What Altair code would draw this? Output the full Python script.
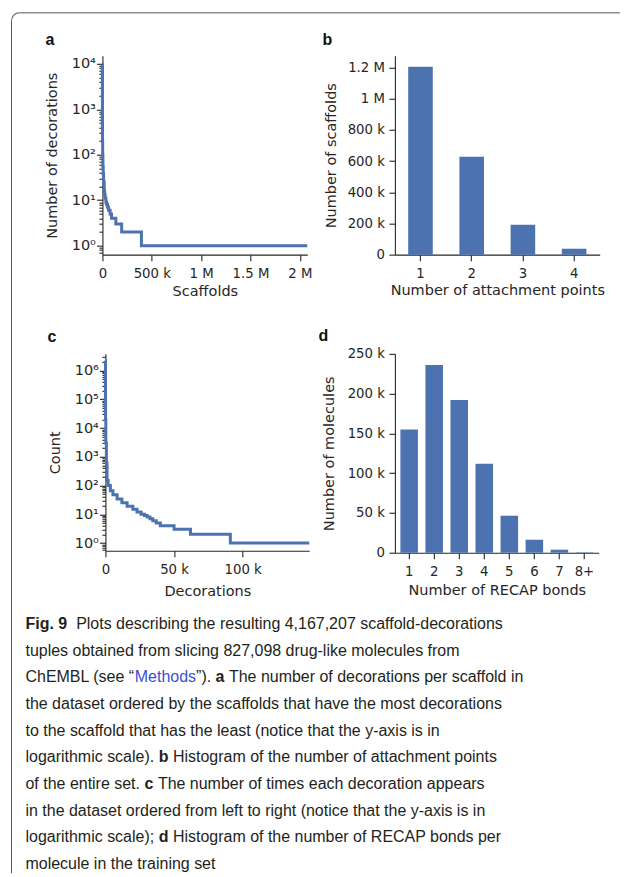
import altair as alt
import pandas as pd

# ---------------- data ----------------
# a: number of decorations per scaffold, ranked (rank at which each level starts)
a_rank = [0, 30, 100, 400, 1000, 2500, 5000, 8000, 12000, 18000, 23000, 28000,
          35000, 43000, 52000, 62000, 78000, 92000, 136000, 195000, 395000, 2075000]
a_count = [9500, 3000, 1000, 400, 200, 100, 55, 38, 25, 16, 13, 11,
           9, 8, 7, 6, 5, 4, 3, 2, 1, 1]

# b: histogram of attachment points
b_attach = ["1", "2", "3", "4"]
b_scaffolds = [1205000, 628000, 192000, 38000]

# c: number of times each decoration appears, ranked
c_rank = [0, 30, 100, 300, 700, 1200, 2000, 3600, 5500, 8500, 12000, 15800, 20000,
          23000, 26000, 28500, 30500, 32500, 34500, 37000, 40000, 50000, 62000, 91000, 148500]
c_count = [2200000, 100000, 20000, 3000, 600, 150, 100, 66, 48, 34, 25, 19, 15,
           12, 10, 9, 8, 7, 6, 5, 4, 3, 2, 1, 1]

# d: histogram of RECAP bonds
d_bonds = ["1", "2", "3", "4", "5", "6", "7", "8+"]
d_molecules = [155000, 236000, 192000, 112000, 46500, 16300, 3800, 500]

a_xticks = [0, 500000, 1000000, 1500000, 2000000]
c_xticks = [0, 50000, 100000]
b_yticks = [0, 200000, 400000, 600000, 800000, 1000000, 1200000]
d_yticks = [0, 50000, 100000, 150000, 200000, 250000]

# ---------------- styles ----------------
INK = "#262626"
TXT = "#231f20"
BLUE = "#4c72b0"
LINK = "#3a4fd6"
FRAME = "#555555"
AX_FONT = "DejaVu Sans"
CAP_FONT = "Liberation Sans"
CAP_FS = 16.0
LET_FONT = "Liberation Sans"

POW = "[1,10,100,1000,10000,100000,1000000]"
MAJOR_TEST = f"indexof({POW}, datum.value) >= 0"
SUP = "['\u2070','\u00b9','\u00b2','\u00b3','\u2074','\u2075','\u2076']"
LOG_LABEL = f"{MAJOR_TEST} ? '10' + {SUP}[indexof({POW}, datum.value)] : ''"
KM_LABEL = ("datum.value == 0 ? '0' : datum.value >= 1000000 ? "
            "format(datum.value / 1000000, '~g') + ' M' : format(datum.value / 1000, '~g') + ' k'")


def log_ticks(lo, hi):
    vals = []
    for e in range(-1, 7):
        for m in range(1, 10):
            v = m * 10 ** e if e >= 0 else round(m * 10 ** e, 6)
            if lo <= v <= hi:
                vals.append(v)
    return vals


def log_axis(title, title_x, lo, hi, offset=0):
    return alt.Axis(values=log_ticks(lo, hi), labelExpr=LOG_LABEL, labelOverlap=False,
                    labelFlush=False, offset=offset, labelFontSize=14.5,
                    tickSize={"condition": {"test": MAJOR_TEST, "value": 6}, "value": 3.5},
                    labelPadding=1, title=title, titleX=title_x, titleBaseline="alphabetic")


def lin_yaxis(title, title_x, values):
    return alt.Axis(values=values, labelExpr=KM_LABEL, labelOverlap=False, labelFlush=False,
                    tickSize=6, labelPadding=4.5, title=title, titleX=title_x,
                    titleBaseline="alphabetic")


def xaxis_q(title, values, title_y):
    return alt.Axis(values=values, labelExpr=KM_LABEL, labelOverlap=False, labelFlush=False,
                    tickSize=6, labelBaseline="alphabetic", labelPadding=16.5,
                    title=title, titleY=title_y, titleBaseline="alphabetic")


def xaxis_o(title, title_y):
    return alt.Axis(labelAngle=0, tickSize=6, labelBaseline="alphabetic", labelPadding=16.5,
                    title=title, titleY=title_y, titleBaseline="alphabetic")


one = pd.DataFrame({"k": [0]})


def letter(t, x, y):
    return alt.Chart(one).mark_text(text=t, font=LET_FONT, fontSize=16, fontWeight="bold",
                                    align="left", baseline="alphabetic", color="#111111").encode(
        x=alt.value(x), y=alt.value(y))


# ---------------- panel a ----------------
dfa = pd.DataFrame({"rank": a_rank, "count": a_count})
line_a = alt.Chart(dfa).mark_line(interpolate="step-after", color=BLUE, strokeWidth=3).encode(
    x=alt.X("rank:Q", scale=alt.Scale(domain=[0, 2075000], nice=False, zero=False),
            axis=xaxis_q("Scaffolds", a_xticks, 41)),
    y=alt.Y("count:Q", scale=alt.Scale(type="log", domain=[0.634, 15000], nice=False),
            axis=log_axis("Number of decorations", -46, 0.634, 15000)),
)
# frame of the figure box (top edge, rounded corner, left edge); kept inside the page width
frame_top = alt.Chart(one).mark_rule(color=FRAME, strokeWidth=1).encode(
    x=alt.value(-83), x2=alt.value(518), y=alt.value(-43))
frame_left = alt.Chart(one).mark_rule(color=FRAME, strokeWidth=1).encode(
    x=alt.value(-91), y=alt.value(-35), y2=alt.value(818))
frame_corner = alt.Chart(one).mark_arc(color=FRAME, theta=4.71239, theta2=6.28319,
                                       radius=8.5, radius2=7.5).encode(
    x=alt.value(-83), y=alt.value(-35))
panel_a = alt.layer(line_a, letter("a", -57, -10.5), frame_top, frame_left, frame_corner).properties(
    width=205, height=199)

# ---------------- panel b ----------------
dfb = pd.DataFrame({"attach": b_attach, "n": b_scaffolds})
bars_b = alt.Chart(dfb).mark_bar(color=BLUE).encode(
    x=alt.X("attach:O", scale=alt.Scale(paddingInner=0.52, paddingOuter=0.26),
            axis=xaxis_o("Number of attachment points", 39.7)),
    y=alt.Y("n:Q", scale=alt.Scale(domain=[0, 1275000], nice=False),
            axis=lin_yaxis("Number of scaffolds", -59.7, b_yticks)),
)
panel_b = alt.layer(bars_b, letter("b", -72.5, -10.5)).properties(width=205, height=199)

# ---------------- panel c ----------------
dfc = pd.DataFrame({"rank": c_rank, "count": c_count})
line_c = alt.Chart(dfc).mark_line(interpolate="step-after", color=BLUE, strokeWidth=3).encode(
    x=alt.X("rank:Q", scale=alt.Scale(domain=[0, 148500], nice=False, zero=False, range=[3, 207]),
            axis=xaxis_q("Decorations", c_xticks, 44.5)),
    y=alt.Y("count:Q", scale=alt.Scale(type="log", domain=[0.54, 3800000], nice=False),
            axis=log_axis("Count", -45.5, 0.54, 3800000, offset=-3)),
)
panel_c = alt.layer(line_c, letter("c", -55, -11.8)).properties(width=207, height=197)

# ---------------- panel d ----------------
dfd = pd.DataFrame({"bonds": d_bonds, "n": d_molecules})
bars_d = alt.Chart(dfd).mark_bar(color=BLUE).encode(
    x=alt.X("bonds:O", sort=d_bonds, scale=alt.Scale(paddingInner=0.30, paddingOuter=0.22),
            axis=xaxis_o("Number of RECAP bonds", 42.2)),
    y=alt.Y("n:Q", scale=alt.Scale(domain=[0, 250000], nice=False),
            axis=lin_yaxis("Number of molecules", -61, d_yticks)),
)
panel_d = alt.layer(bars_d, letter("d", -76.5, -12.6)).properties(width=204, height=199)

# ---------------- caption ----------------
cap_lines = [
    [("Fig. 9", "bold", TXT, 0),
     ("Plots describing the resulting 4,167,207 scaffold-decorations", "normal", TXT, 2)],
    [("tuples obtained from slicing 827,098 drug-like molecules from", "normal", TXT, 0)],
    [("ChEMBL (see \u201c", "normal", TXT, 0), ("Methods", "normal", LINK, 0),
     ("\u201d).", "normal", TXT, 0), ("a", "bold", TXT, 1),
     ("The number of decorations per scaffold in", "normal", TXT, 1)],
    [("the dataset ordered by the scaffolds that have the most decorations", "normal", TXT, 0)],
    [("to the scaffold that has the least (notice that the y-axis is in", "normal", TXT, 0)],
    [("logarithmic scale).", "normal", TXT, 0), ("b", "bold", TXT, 1),
     ("Histogram of the number of attachment points", "normal", TXT, 1)],
    [("of the entire set.", "normal", TXT, 0), ("c", "bold", TXT, 1),
     ("The number of times each decoration appears", "normal", TXT, 1)],
    [("in the dataset ordered from left to right (notice that the y-axis is in", "normal", TXT, 0)],
    [("logarithmic scale);", "normal", TXT, 0), ("d", "bold", TXT, 1),
     ("Histogram of the number of RECAP bonds per", "normal", TXT, 1)],
    [("molecule in the training set", "normal", TXT, 0)],
]

# advance widths (1/1000 em) of the Arial-metric Liberation Sans
AR = {}
for ch, w in zip("ABCDEFGHIJKLMNOPQRSTUVWXYZ",
                 [667, 667, 722, 722, 667, 611, 778, 722, 278, 500, 667, 556, 833, 722, 778,
                  667, 778, 722, 667, 611, 722, 667, 944, 667, 667, 611]):
    AR[ch] = w
for ch, w in zip("abcdefghijklmnopqrstuvwxyz",
                 [556, 556, 500, 556, 556, 278, 556, 556, 222, 222, 500, 222, 833, 556, 556,
                  556, 556, 333, 500, 278, 556, 500, 722, 500, 500, 500]):
    AR[ch] = w
for ch in "0123456789":
    AR[ch] = 556
AR.update({" ": 278, ",": 278, ".": 278, "-": 333, "(": 333, ")": 333, ";": 278,
           "\u201c": 333, "\u201d": 333})
AB = {"F": 611, "i": 278, "g": 611, ".": 278, " ": 278, "9": 556,
      "a": 556, "b": 611, "c": 556, "d": 611}
CAP_X0 = 25 - 102
CAP_Y0 = -22.9
CAP_DY = 26.67


def tw(s, bold):
    tab = AB if bold else AR
    return sum(tab.get(c, 556) for c in s) / 1000 * CAP_FS


rows = []
for k, segs in enumerate(cap_lines):
    x = CAP_X0
    for text, weight, color, spaces in segs:
        x += spaces * tw(" ", False)
        rows.append({"line": k, "x": x, "text": text, "weight": weight, "color": color})
        x += tw(text, weight == "bold")
dcap = pd.DataFrame(rows)

cap_base = alt.Chart(dcap).encode(
    x=alt.X("x:Q", scale=None),
    y=alt.Y("line:Q", scale=alt.Scale(domain=[0, 9], range=[CAP_Y0, CAP_Y0 + CAP_DY * 9],
                                      nice=False, zero=False),
            axis=None),
    text="text:N",
    color=alt.Color("color:N", scale=None),
)
cap_reg = cap_base.transform_filter("datum.weight == 'normal'").mark_text(
    font=CAP_FONT, fontSize=CAP_FS, align="left", baseline="alphabetic")
cap_bold = cap_base.transform_filter("datum.weight == 'bold'").mark_text(
    font=CAP_FONT, fontSize=CAP_FS, fontWeight="bold", align="left", baseline="alphabetic")
caption = alt.layer(cap_reg, cap_bold).properties(width=205, height=10)

# ---------------- layout ----------------
chart = alt.concat(panel_a, panel_b, panel_c, panel_d, caption, columns=2, align="none",
                   spacing={"row": 99.3, "column": 85.7}, bounds="flush").properties(
    padding={"left": 2.5, "top": 3.5, "right": 0, "bottom": 0},
    background="white",
).configure_view(stroke=None).configure_axis(
    grid=False, domainColor=INK, tickColor=INK, labelColor=INK, titleColor=INK,
    domainWidth=1.1, tickWidth=1.1,
    labelFont=AX_FONT, titleFont=AX_FONT, labelFontSize=13.3, titleFontSize=14.5,
    titleFontWeight="normal",
)

chart.save("out.html", embed_options={"renderer": "svg", "actions": False})
